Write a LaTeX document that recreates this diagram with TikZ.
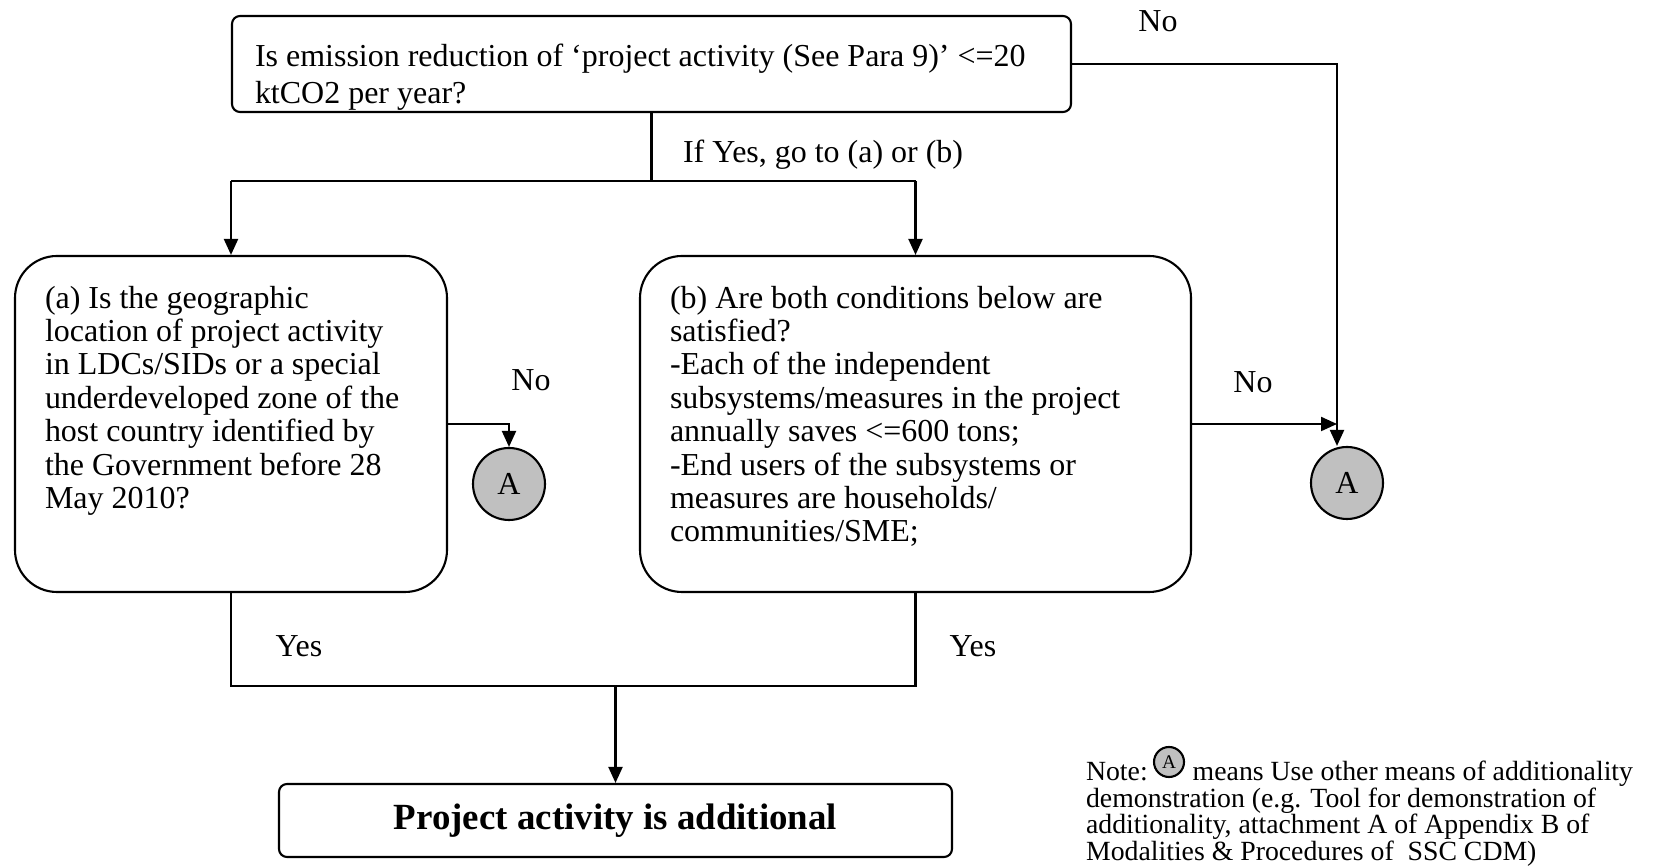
\documentclass[tikz,border=0pt]{standalone}
\usepackage{fontspec}
\setmainfont{Liberation Serif}
\usetikzlibrary{arrows.meta}

\definecolor{circgray}{RGB}{192,192,192}

\tikzset{
  box/.style={draw, line width=0.6pt, rounded corners=0.08cm, inner sep=0pt},
  bigbox/.style={draw, line width=0.6pt, rounded corners=0.42cm, inner sep=0.3cm},
  circA/.style={draw, circle, line width=0.6pt, fill=circgray, minimum size=0.72cm, inner sep=0pt},
  arr/.style={-{Triangle[length=0.16cm, width=0.14cm]}},
  lbl/.style={inner sep=0pt}
}

\begin{document}
\begin{tikzpicture}[line width=0.6pt, font=\fontsize{9.1}{9.5}\selectfont]
    \useasboundingbox (0,0) rectangle (16.8,-8.67);

    \coordinate (split) at (6.515,-1.81);
    \coordinate (join) at (6.155,-6.86);
    \coordinate (cornerR) at (13.37,-0.64);

    % Draw question boxes
    \node[box, inner xsep=0.23cm, inner ysep=0.21cm] (top) at (6.515,-0.64)
        {\parbox[c][0.54cm][t]{7.93cm}{\vspace*{0.07cm}\raggedright
        \mbox{Is emission reduction of ‘project activity (See Para 9)’ <=20}\\[1pt]
        ktCO2 per year?}};
    \node[bigbox] (boxa) at (2.31,-4.24) {\parbox[c][2.76cm][t]{3.72cm}{\raggedright
        (a) Is the geographic\\
        location of project activity\\
        in LDCs/SIDs or a special\\
        underdeveloped zone of the\\
        host country identified by\\
        the Government before 28\\
        May 2010?}};
    \node[bigbox] (boxb) at (9.155,-4.24) {\parbox[c][2.76cm][t]{4.91cm}{\raggedright
        (b) Are both conditions below are\\
        satisfied?\\
        -Each of the independent\\
        subsystems/measures in the project\\
        annually saves <=600 tons;\\
        -End users of the subsystems or\\
        measures are households/\\
        communities/SME;}};

    % Draw result box
    \node[box, minimum width=6.73cm, minimum height=0.73cm, font=\fontsize{10.5}{12}\selectfont\bfseries] (final) at (6.155,-8.205)
        {Project activity is additional};

    % Draw connector circles
    \node[circA] (circL) at (5.09,-4.84) {A};
    \node[circA] (circR) at (13.47,-4.83) {A};

    % Draw Yes branches
    \draw (top.south) -- (split);
    \draw (boxa.north |- split) -- (boxb.north |- split);
    \draw[arr] (boxa.north |- split) -- (boxa.north);
    \draw[arr] (boxb.north |- split) -- (boxb.north);
    \draw (boxa.south) -- (boxa.south |- join) -- (boxb.south |- join) -- (boxb.south);
    \draw[arr] (join) -- (final.north);

    % Draw No branches
    \draw[arr] (top.east) -- (cornerR) -- (cornerR |- circR.north);
    \draw[arr] (boxb.east) -- (boxb.east -| cornerR);
    \draw[arr] (boxa.east) -- (boxa.east -| circL.north) -- (circL.north);

    % Labels
    \node[lbl, anchor=west] (ifyes) at (6.82,-1.55) {If Yes, go to (a) or (b)};
    \node[lbl] (notop) at (11.58,-0.21) {No};
    \node[lbl] (noa) at (5.31,-3.80) {No};
    \node[lbl] (nob) at (12.53,-3.82) {No};
    \node[lbl] (yesa) at (2.99,-6.46) {Yes};
    \node[lbl] (yesb) at (9.73,-6.46) {Yes};

    % Note
    \node[lbl, anchor=north west, align=left, font=\fontsize{7.9}{7.54}\selectfont] (note) at (10.85,-7.60)
        {Note:\hspace{0.45cm}means Use other means of additionality\\
        demonstration (e.g. Tool for demonstration of\\
        additionality, attachment A of Appendix B of\\
        Modalities \& Procedures of~ SSC CDM)};
    \node[circA, minimum size=0.3cm, font=\fontsize{5.5}{5.5}\selectfont] (circN) at (11.69,-7.62) {A};
\end{tikzpicture}
\end{document}
